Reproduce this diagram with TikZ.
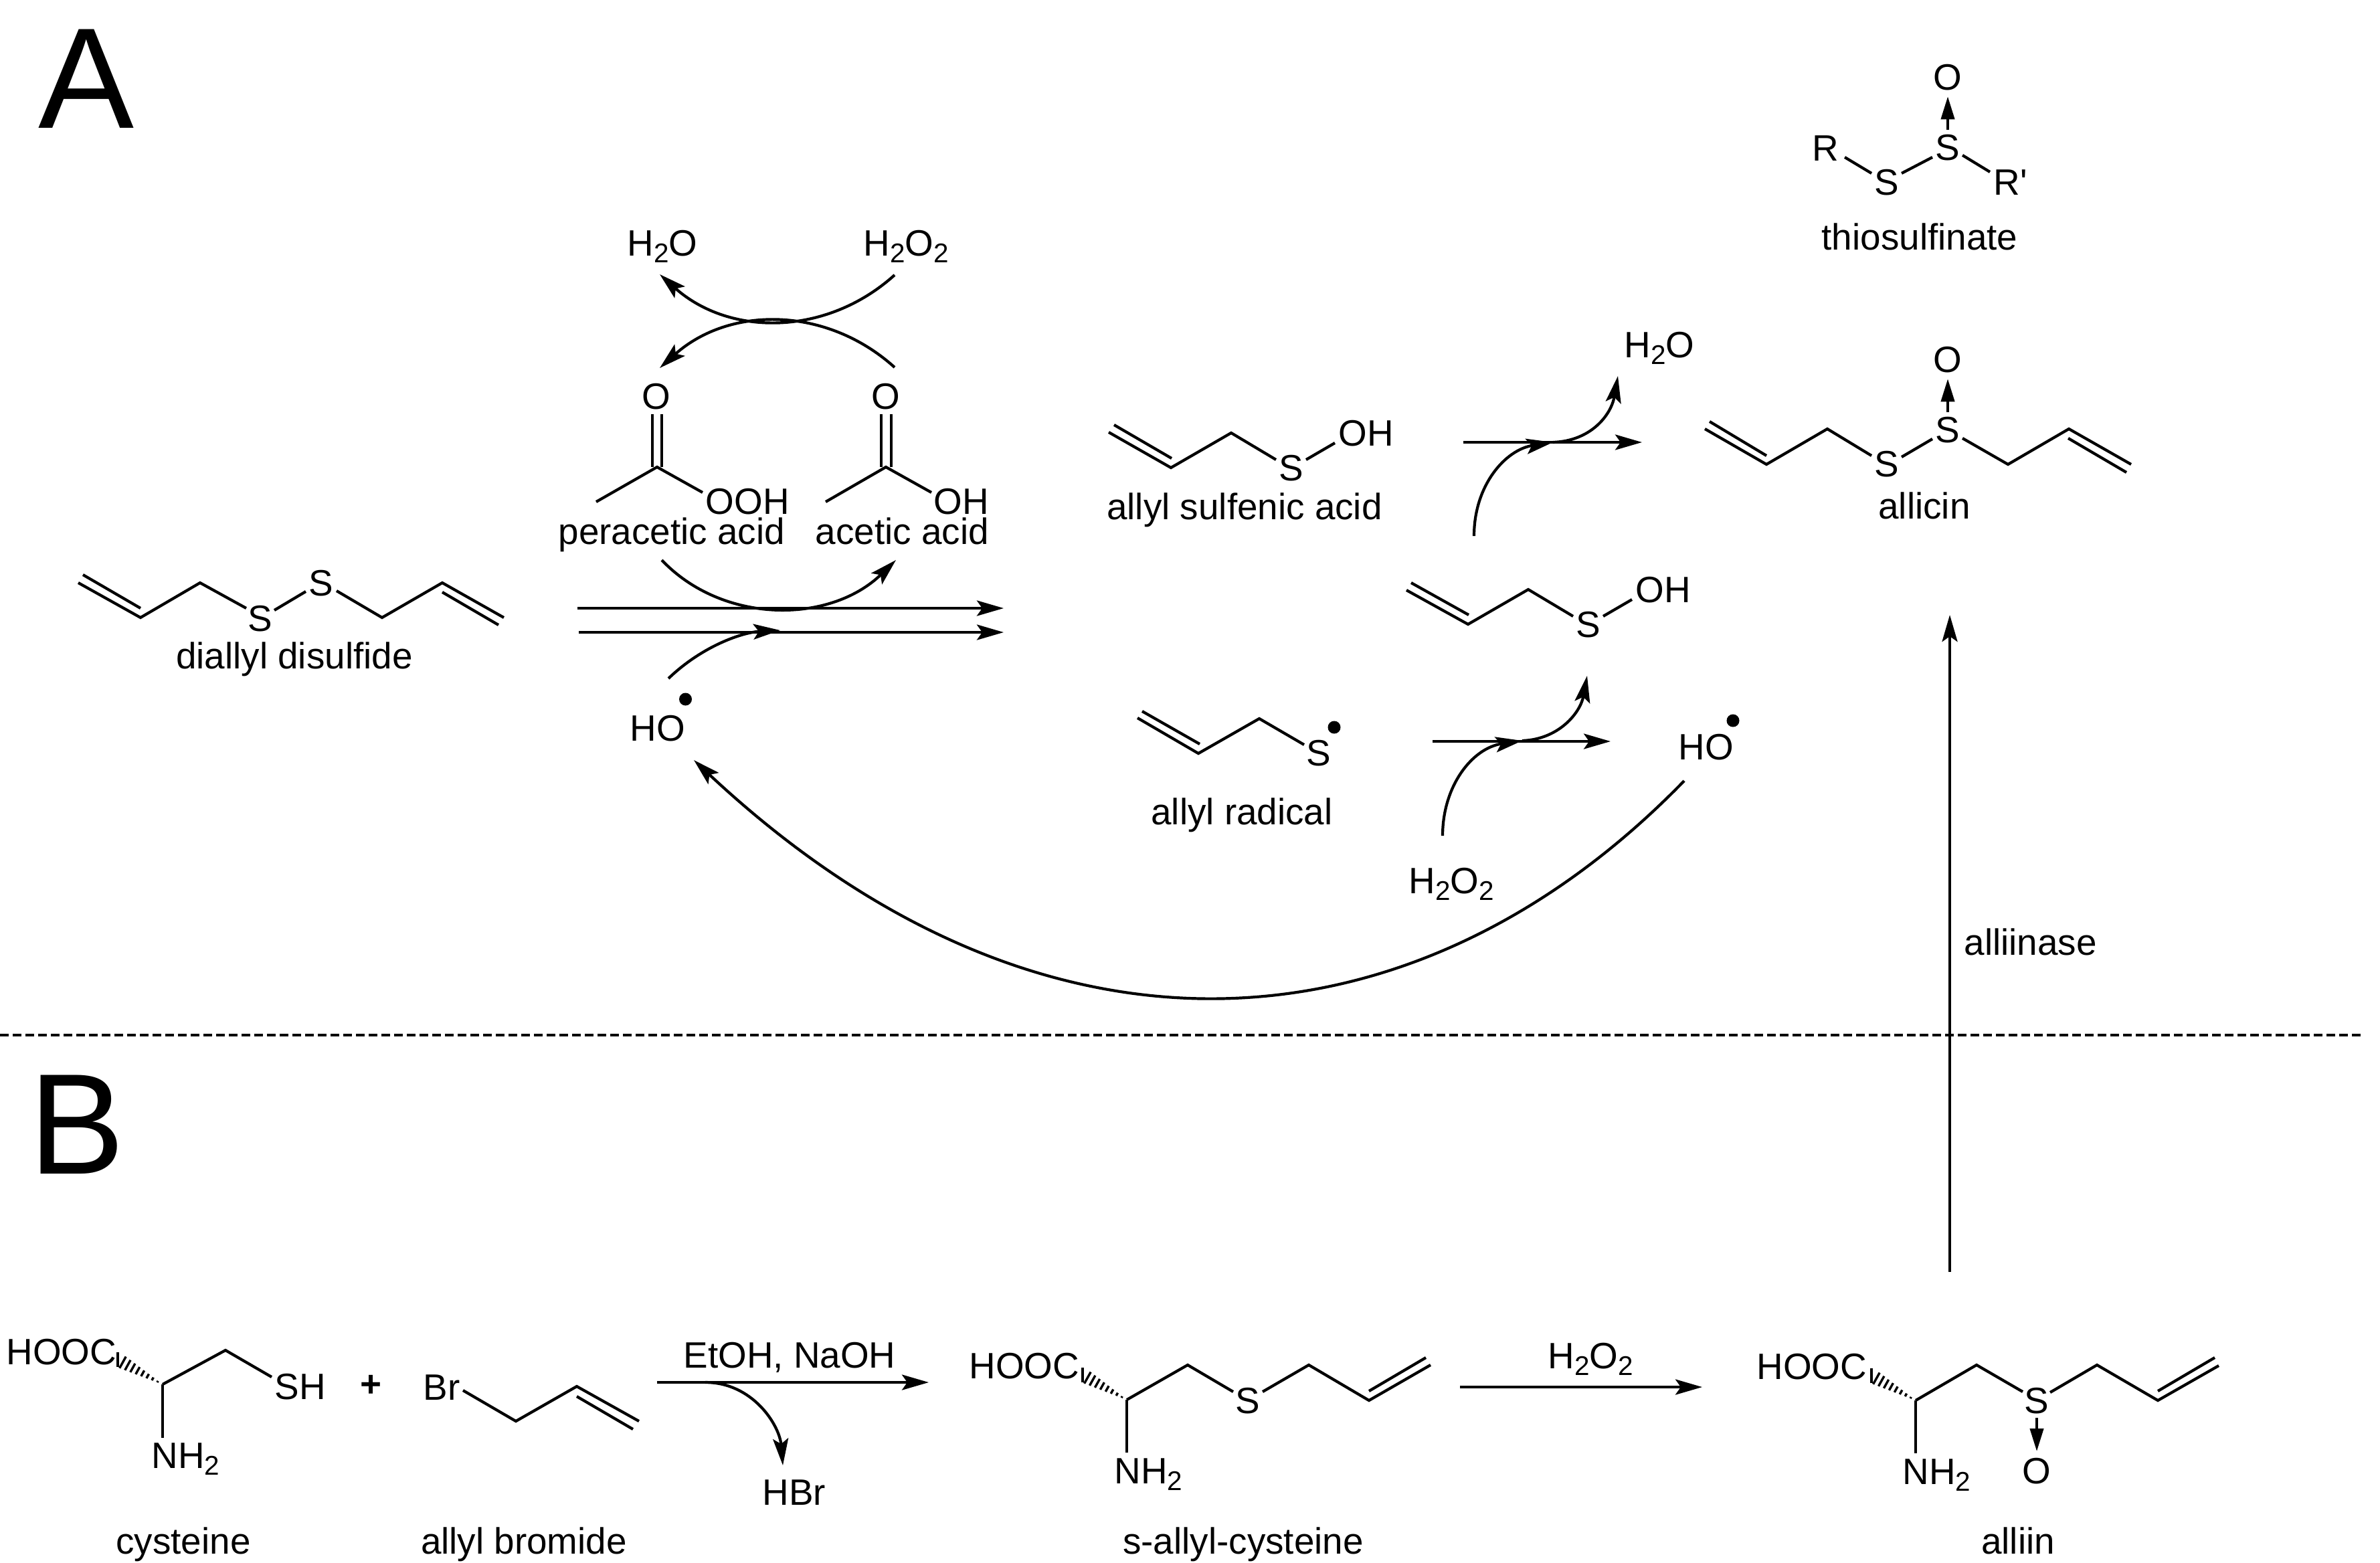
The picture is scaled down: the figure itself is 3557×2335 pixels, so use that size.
\documentclass[tikz,border=0pt]{standalone}
\usepackage{fontspec}
\setmainfont{Liberation Sans}
\usetikzlibrary{arrows.meta}
\usetikzlibrary{calc}

\newcommand{\labelsize}{\fontsize{15.6}{18}\selectfont}
\newcommand{\lowsub}[1]{\raisebox{-0.19em}{\fontsize{11.5}{13}\selectfont #1}}
\newcommand{\hashwedge}[2]{\foreach \n in {1,...,9}{
  \draw[hashline] ($(#1)!\n/9!(#2)!\n*0.35pt!90:(#2)$) -- ($(#1)!\n/9!(#2)!-\n*0.35pt!90:(#2)$);}}

\tikzset{
  atom/.style={inner sep=0pt, anchor=base, font=\labelsize},
  atomleft/.style={inner sep=0pt, anchor=base west, font=\labelsize},
  panel/.style={inner sep=0pt, anchor=base west, font=\fontsize{61}{61}\selectfont},
  bond/.style={line width=0.42mm, line join=miter},
  hashline/.style={line width=0.34mm},
  rxn/.style={line width=0.42mm, -{Stealth[length=4mm,width=2.3mm,inset=0.8mm]}},
  dative/.style={line width=0.4mm, shorten <=0.6mm, shorten >=0.9mm, -{Stealth[length=3.4mm,width=2mm,inset=0mm]}},
  radical/.style={circle, fill=black, inner sep=0pt, minimum size=1.9mm},
  split/.style={line width=0.36mm, dash pattern=on 1.3mm off 0.6mm}
}

\begin{document}
\begin{tikzpicture}[x=0.1mm,y=-0.1mm]
  \useasboundingbox (0,0) rectangle (3557,2335);

  % Panel letters
  \node[panel] (panelA) at (57,191) {A};
  \node[panel] (panelB) at (43,1754) {B};

  % Line between the two panels
  \coordinate (splitL) at (0,1547);
  \coordinate (splitR) at (3533,1547);
  \draw[split] (splitL) -- (splitR);

  % Diallyl disulfide
  \draw[bond] (117,871) -- (210,923) -- (299,871) -- (368,909);
  \draw[bond] (124,859) -- (210,909);
  \draw[bond] (410,912) -- (457,884);
  \draw[bond] (503,883) -- (571,923) -- (661,871) -- (753,923);
  \draw[bond] (661,885) -- (745,934);
  \node[atom] (diallylSa) at (389,943) {S};
  \node[atom] (diallylSb) at (480,890) {S};
  \node[atom] (diallylName) at (440,999) {diallyl disulfide};

  % Peracetic acid
  \draw[bond] (891,750) -- (982,698) -- (1050,736);
  \draw[bond] (975,619) -- (975,698);
  \draw[bond] (989,619) -- (989,698);
  \node[atom] (peracO) at (981,611) {O};
  \node[atomleft] (peracOOH) at (1054,768) {OOH};
  \node[atomleft] (peracName) at (834,813) {peracetic acid};

  % Acetic acid
  \draw[bond] (1234,750) -- (1324,698) -- (1392,736);
  \draw[bond] (1317,619) -- (1317,698);
  \draw[bond] (1332,619) -- (1332,698);
  \node[atom] (aceticO) at (1324,611) {O};
  \node[atomleft] (aceticOH) at (1395,768) {OH};
  \node[atomleft] (aceticName) at (1218,813) {acetic acid};

  % Peroxide cycle above the acids
  \node[atomleft] (waterTop) at (937,382) {H\lowsub{2}O};
  \node[atomleft] (peroxTop) at (1290,382) {H\lowsub{2}O\lowsub{2}};
  \coordinate (peroxOut) at (1337,411);
  \coordinate (waterIn) at (986,410);
  \coordinate (aceticUp) at (1337,549);
  \coordinate (peracIn) at (986,550);
  \draw[rxn] (peroxOut) .. controls (1235,503) and (1090,503) .. (waterIn);
  \draw[rxn] (aceticUp) .. controls (1235,457) and (1090,457) .. (peracIn);

  % Oxidation arrows
  \coordinate (peracDown) at (989,837);
  \coordinate (aceticIn) at (1339,837);
  \coordinate (oxaL) at (863,909);
  \coordinate (oxaR) at (1500,909);
  \coordinate (oxbL) at (865,945);
  \coordinate (oxbR) at (1500,945);
  \coordinate (hoUp) at (999,1014);
  \coordinate (hoIn) at (1166,942);
  \draw[rxn] (peracDown) .. controls (1080,933) and (1240,933) .. (aceticIn);
  \draw[rxn] (oxaL) -- (oxaR);
  \draw[rxn] (oxbL) -- (oxbR);
  \draw[rxn] (hoUp) .. controls (1050,965) and (1110,945) .. (hoIn);
  \node[atomleft] (hoLeft) at (941,1107) {HO};
  \node[radical] (hoLeftDot) at (1024.5,1045) {};

  % Allyl sulfenic acid
  \draw[bond] (1657,646) -- (1750,699) -- (1840,647) -- (1907,687);
  \draw[bond] (1665,635) -- (1751,685);
  \draw[bond] (1952,687) -- (1995,662);
  \node[atom] (sulfenS) at (1930,718) {S};
  \node[atomleft] (sulfenOH) at (2000,666) {OH};
  \node[atom] (sulfenName) at (1860,776) {allyl sulfenic acid};

  % Allyl radical
  \draw[bond] (1700,1073) -- (1791,1126) -- (1882,1074) -- (1949,1113);
  \draw[bond] (1707,1063) -- (1793,1112);
  \node[atom] (radicalS) at (1971,1144) {S};
  \node[radical] (radicalDot) at (1994,1087) {};
  \node[atom] (radicalName) at (1856,1232) {allyl radical};

  % Sulfenic acid formed from the radical
  \draw[bond] (2102,882) -- (2194,933) -- (2284,881) -- (2351,921);
  \draw[bond] (2109,871) -- (2195,919);
  \draw[bond] (2396,921) -- (2439,896);
  \node[atom] (midS) at (2374,952) {S};
  \node[atomleft] (midOH) at (2444,900) {OH};

  % Step from radical to sulfenic acid
  \node[atomleft] (peroxLow) at (2105,1335) {H\lowsub{2}O\lowsub{2}};
  \coordinate (radL) at (2141,1108);
  \coordinate (radR) at (2407,1108);
  \coordinate (peroxUp) at (2156,1249);
  \coordinate (radMid) at (2275,1107);
  \coordinate (midIn) at (2372,1010);
  \draw[rxn] (radL) -- (radR);
  \draw[rxn] (peroxUp) .. controls (2156,1175) and (2200,1118) .. (radMid);
  \draw[rxn] (radMid) .. controls (2330,1105) and (2362,1065) .. (midIn);

  % Step from sulfenic acid to allicin
  \node[atomleft] (waterUp) at (2427,534) {H\lowsub{2}O};
  \coordinate (sulfL) at (2187,661);
  \coordinate (sulfR) at (2454,661);
  \coordinate (midUp) at (2203,801);
  \coordinate (sulfMid) at (2321,661);
  \coordinate (waterIn2) at (2418,562);
  \draw[rxn] (sulfL) -- (sulfR);
  \draw[rxn] (midUp) .. controls (2203,725) and (2250,672) .. (sulfMid);
  \draw[rxn] (sulfMid) .. controls (2378,659) and (2408,620) .. (waterIn2);

  % Hydroxyl radical going back
  \node[atomleft] (hoRight) at (2508,1135) {HO};
  \node[radical] (hoRightDot) at (2590,1077) {};
  \coordinate (hoBack) at (2517,1167);
  \coordinate (hoBackIn) at (1037,1136);
  \draw[rxn] (hoBack) .. controls (2123,1573) and (1567,1632) .. (hoBackIn);

  % Thiosulfinate
  \node[atom] (thioO) at (2911,134) {O};
  \node[atom] (thioSa) at (2911,239) {S};
  \node[atom] (thioSb) at (2820,291) {S};
  \node[atomleft] (thioR) at (2708,240) {R};
  \node[atomleft] (thioRp) at (2979,291) {R\textquotesingle};
  \node[atom] (thioName) at (2869,373) {thiosulfinate};
  \draw[dative] (thioSa.north) -- (thioO.south);
  \draw[bond] (2757,235) -- (2797,259);
  \draw[bond] (2842,259) -- (2888,235);
  \draw[bond] (2933,232) -- (2974,257);

  % Allicin
  \node[atom] (allicinO) at (2911,556) {O};
  \node[atom] (allicinSa) at (2911,661) {S};
  \node[atom] (allicinSb) at (2820,712) {S};
  \node[atom] (allicinName) at (2876,775) {allicin};
  \draw[dative] (allicinSa.north) -- (allicinO.south);
  \draw[bond] (2548,641) -- (2640,694) -- (2731,641) -- (2797,681);
  \draw[bond] (2555,630) -- (2640,681);
  \draw[bond] (2842,683) -- (2888,656);
  \draw[bond] (2933,655) -- (3001,694) -- (3092,641) -- (3185,694);
  \draw[bond] (3091,655) -- (3178,706);

  % Cysteine
  \node[atomleft] (cysHOOC) at (9,2039) {HOOC};
  \node[atomleft] (cysSH) at (410,2091) {SH};
  \node[atomleft] (cysNH) at (226,2194) {NH\lowsub{2}};
  \node[atom] (cysName) at (274,2322) {cysteine};
  \coordinate (cysC) at (243,2069);
  \coordinate (cysW) at (176,2032);
  \hashwedge{cysC}{cysW}
  \draw[bond] (cysC) -- (337,2018) -- (406,2058);
  \draw[bond] (cysC) -- (243,2149);

  \node[atom, anchor=center, font=\labelsize\bfseries] (plusSign) at (555,2071) {+};

  % Allyl bromide
  \node[atomleft] (brBr) at (632,2092) {Br};
  \node[atom] (brName) at (783,2322) {allyl bromide};
  \draw[bond] (692,2078) -- (771,2124) -- (862,2072) -- (955,2124);
  \draw[bond] (862,2087) -- (946,2136);

  % Substitution arrow
  \node[atom] (etohLabel) at (1180,2044) {EtOH, NaOH};
  \node[atomleft] (hbr) at (1139,2249) {HBr};
  \coordinate (subL) at (982,2066);
  \coordinate (subR) at (1388,2066);
  \coordinate (subOut) at (1054,2066);
  \coordinate (hbrIn) at (1170,2190);
  \draw[rxn] (subL) -- (subR);
  \draw[rxn] (subOut) .. controls (1125,2066) and (1165,2130) .. (hbrIn);

  % S-allyl-cysteine
  \node[atomleft] (sacHOOC) at (1448,2060) {HOOC};
  \node[atom] (sacS) at (1865,2112) {S};
  \node[atomleft] (sacNH) at (1665,2217) {NH\lowsub{2}};
  \node[atom] (sacName) at (1858,2322) {s-allyl-cysteine};
  \coordinate (sacC) at (1684,2092);
  \coordinate (sacW) at (1618,2055);
  \hashwedge{sacC}{sacW}
  \draw[bond] (sacC) -- (1775,2040) -- (1843,2080);
  \draw[bond] (sacC) -- (1684,2171);
  \draw[bond] (1887,2080) -- (1956,2040) -- (2046,2093) -- (2138,2040);
  \draw[bond] (2046,2079) -- (2131,2029);

  % Oxidation to alliin
  \node[atomleft] (peroxRxn) at (2313,2045) {H\lowsub{2}O\lowsub{2}};
  \coordinate (oxL) at (2182,2073);
  \coordinate (oxR) at (2544,2073);
  \draw[rxn] (oxL) -- (oxR);

  % Alliin
  \node[atomleft] (alHOOC) at (2625,2061) {HOOC};
  \node[atom] (alS) at (3044,2112) {S};
  \node[atom] (alO) at (3044,2217) {O};
  \node[atomleft] (alNH) at (2843,2218) {NH\lowsub{2}};
  \node[atom] (alName) at (3016,2322) {alliin};
  \coordinate (alC) at (2863,2093);
  \coordinate (alW) at (2797,2056);
  \hashwedge{alC}{alW}
  \draw[bond] (alC) -- (2954,2040) -- (3023,2080);
  \draw[bond] (alC) -- (2863,2172);
  \draw[bond] (3064,2081) -- (3134,2040) -- (3225,2093) -- (3316,2041);
  \draw[bond] (3225,2079) -- (3310,2029);
  \draw[dative] (alS.south) -- (alO.north);

  % Alliinase step
  \coordinate (alliinUp) at (2914,1901);
  \coordinate (allicinIn) at (2914,919);
  \draw[rxn] (alliinUp) -- (allicinIn);
  \node[atomleft] (alliinase) at (2935,1427) {alliinase};
\end{tikzpicture}
\end{document}
